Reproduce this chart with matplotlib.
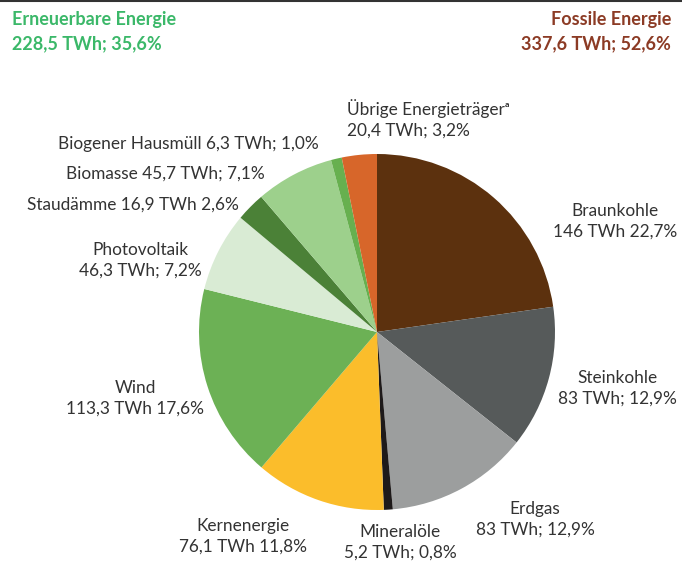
import numpy as np
import matplotlib.pyplot as plt
from matplotlib.lines import Line2D

plt.rcParams['font.family'] = ['Lato', 'DejaVu Sans']

# slices, clockwise from 12 o'clock
names = ["Braunkohle", "Steinkohle", "Erdgas", "Mineralöle", "Kernenergie", "Wind",
         "Photovoltaik", "Staudämme", "Biomasse", "Biogener Hausmüll", "Übrige Energieträgerᵃ"]
twh = [146, 83, 83, 5.2, 76.1, 113.3, 46.3, 16.9, 45.7, 6.3, 20.4]
labels = ["Braunkohle\n146 TWh 22,7%", "Steinkohle\n83 TWh; 12,9%", "Erdgas\n83 TWh; 12,9%",
          "Mineralöle\n5,2 TWh; 0,8%", "Kernenergie\n76,1 TWh 11,8%", "Wind\n113,3 TWh 17,6%",
          "Photovoltaik\n46,3 TWh; 7,2%", "Staudämme 16,9 TWh 2,6%", "Biomasse 45,7 TWh; 7,1%",
          "Biogener Hausmüll 6,3 TWh; 1,0%", "Übrige Energieträgerᵃ\n20,4 TWh; 3,2%"]
colors = ["#5c310e", "#565a5a", "#9c9e9e", "#1e1a1a", "#fbbd2b", "#6cb155",
          "#d9ebd4", "#4b8137", "#9dd08c", "#67b04f", "#d7662a"]

W, H = 682, 563
fig = plt.figure(figsize=(W / 100, H / 100), dpi=100)

cx, cy, r = 377, 332, 178
ax = fig.add_axes([(cx - r) / W, (H - cy - r) / H, 2 * r / W, 2 * r / H])
ax.pie(twh, colors=colors, startangle=90, counterclock=False,
       wedgeprops=dict(linewidth=0))
ax.set_xlim(-1, 1)
ax.set_ylim(-1, 1)
ax.set_aspect('equal')
ax.axis('off')

def px(x, y):
    return x / W, 1 - y / H

# label placement in pixels: (x, y, ha)
pos = [(615, 221, 'center'), (617, 388, 'center'), (535, 519, 'center'),
       (400, 542, 'center'), (243, 536, 'center'), (135, 398, 'center'),
       (140, 260, 'center'), (27, 205, 'left'), (66, 174, 'left'),
       (58, 144, 'left'), (347, 119, 'left')]
for lab, (x, y, ha) in zip(labels, pos):
    fig.text(*px(x, y), lab, ha=ha, va='center', fontsize=12.4, color="#333333",
             linespacing=1.35)

# header totals
fs = 13
fig.text(*px(12, 19), "Erneuerbare Energie", ha='left', va='center', fontsize=fs,
         fontweight='bold', color="#3bb869")
fig.text(*px(12, 44), "228,5 TWh; 35,6%", ha='left', va='center', fontsize=fs,
         fontweight='bold', color="#3bb869")
fig.text(*px(671, 19), "Fossile Energie", ha='right', va='center', fontsize=fs,
         fontweight='bold', color="#8c3b25")
fig.text(*px(671, 44), "337,6 TWh; 52,6%", ha='right', va='center', fontsize=fs,
         fontweight='bold', color="#8c3b25")

fig.add_artist(Line2D([0, 1], [1 - 1 / H, 1 - 1 / H], color="#333333", linewidth=1.5,
                      transform=fig.transFigure))

plt.savefig("out.png", dpi=100)
